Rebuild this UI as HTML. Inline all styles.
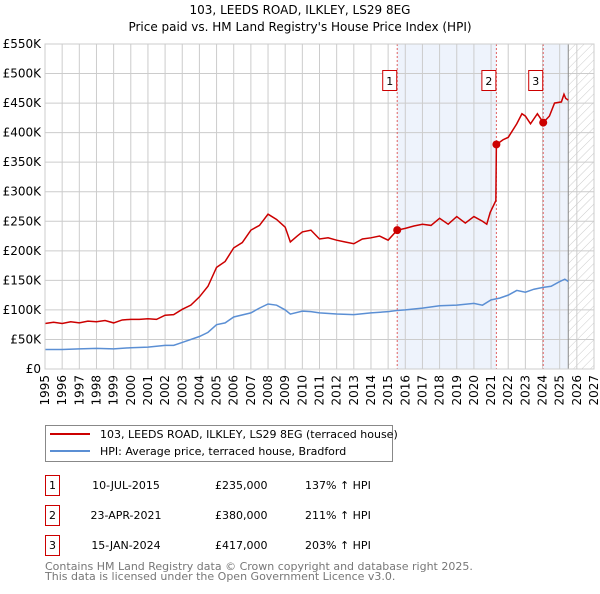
<!DOCTYPE html>
<html><head><meta charset="utf-8"><style>
body{margin:0;background:#fff;font-family:"DejaVu Sans","Liberation Sans",sans-serif;}
svg text{font-family:"DejaVu Sans","Liberation Sans",sans-serif;}
</style></head><body>
<svg id="c" width="600" height="590" xmlns="http://www.w3.org/2000/svg">
<defs><pattern id="hatch" width="6" height="6" patternUnits="userSpaceOnUse" patternTransform="rotate(45)"><line x1="0" y1="0" x2="0" y2="6" stroke="#ccc" stroke-width="1"/></pattern></defs>
<text x="300" y="14" text-anchor="middle" font-size="12">103, LEEDS ROAD, ILKLEY, LS29 8EG</text>
<text x="300" y="31" text-anchor="middle" font-size="12">Price paid vs. HM Land Registry's House Price Index (HPI)</text>
<g id="plot"></g>
<g>
<rect x="45.5" y="425.5" width="347" height="36" fill="#fff" stroke="#888"/>
<line x1="50" y1="434" x2="90" y2="434" stroke="#cc0000" stroke-width="2"/>
<text x="100" y="438" font-size="11">103, LEEDS ROAD, ILKLEY, LS29 8EG (terraced house)</text>
<line x1="50" y1="451" x2="90" y2="451" stroke="#5b8fd4" stroke-width="2"/>
<text x="100" y="455" font-size="11">HPI: Average price, terraced house, Bradford</text>
</g>
<g id="table" font-size="11"></g>
<text x="45" y="570" font-size="11" fill="#777">Contains HM Land Registry data © Crown copyright and database right 2025.</text>
<text x="45" y="580" font-size="11" fill="#777">This data is licensed under the Open Government Licence v3.0.</text>
</svg>
<script>
const yTicks=[0,50,100,150,200,250,300,350,400,450,500,550];
const yLabels=["£0","£50K","£100K","£150K","£200K","£250K","£300K","£350K","£400K","£450K","£500K","£550K"];
const xYears=[1995,1996,1997,1998,1999,2000,2001,2002,2003,2004,2005,2006,2007,2008,2009,2010,2011,2012,2013,2014,2015,2016,2017,2018,2019,2020,2021,2022,2023,2024,2025,2026,2027];
const redT=[1995,1995.5,1996,1996.5,1997,1997.5,1998,1998.5,1999,1999.5,2000,2000.5,2001,2001.5,2002,2002.5,2003,2003.5,2004,2004.5,2005,2005.5,2006,2006.5,2007,2007.5,2008,2008.5,2009,2009.3,2009.7,2010,2010.5,2011,2011.5,2012,2012.5,2013,2013.5,2014,2014.5,2015,2015.53,2016,2016.5,2017,2017.5,2018,2018.5,2019,2019.5,2020,2020.5,2020.75,2020.95,2021.28,2021.31,2021.7,2022,2022.5,2022.8,2023,2023.3,2023.7,2024.04,2024.4,2024.7,2025.1,2025.25,2025.35,2025.5];
const redV=[77,79,77,80,78,81,80,82,78,83,84,84,85,84,91,92,101,108,122,140,172,182,205,214,235,243,262,253,240,215,225,232,235,220,222,218,215,212,220,222,225,218,235,238,242,245,243,255,245,258,247,258,250,245,265,285,380,388,392,415,432,428,415,432,417,428,450,452,465,458,455];
const blueT=[1995,1996,1997,1998,1999,2000,2001,2002,2002.5,2003,2004,2004.5,2005,2005.5,2006,2007,2007.5,2008,2008.5,2009,2009.3,2010,2010.5,2011,2012,2013,2014,2015,2015.5,2016,2017,2018,2019,2020,2020.5,2021,2021.5,2022,2022.5,2023,2023.5,2024,2024.5,2025,2025.3,2025.5];
const blueV=[33,33,34,35,34,36,37,40,40,45,55,62,75,78,88,95,103,110,108,100,93,98,97,95,93,92,95,97,99,100,103,107,108,111,108,117,120,125,133,130,135,138,140,148,152,148];
const saleT=[2015.53,2021.31,2024.04];
const saleV=[235,380,417];
const saleLabels=["1","2","3"];
const saleDates=["10-JUL-2015","23-APR-2021","15-JAN-2024"];
const salePrices=["£235,000","£380,000","£417,000"];
const saleHpi=["137% ↑ HPI","211% ↑ HPI","203% ↑ HPI"];
const X0=45,X1=594,Y0=369,Y1=44;
const x=t=>X0+(t-1995)*(X1-X0)/32;
const y=v=>Y0-v*(Y0-Y1)/550;
const NS="http://www.w3.org/2000/svg";
const plot=document.getElementById('plot');
function mk(tag,attrs,parent){const e=document.createElementNS(NS,tag);for(const k in attrs)e.setAttribute(k,attrs[k]);(parent||plot).appendChild(e);return e;}
let e;
e=mk('rect',{x:x(saleT[0]),y:Y1,width:x(saleT[1])-x(saleT[0]),height:Y0-Y1,fill:'#eef3fc'});


e=mk('rect',{x:x(saleT[2]),y:Y1,width:x(2025.5)-x(saleT[2]),height:Y0-Y1,fill:'#eef3fc'});


e=mk('rect',{x:x(2025.5),y:Y1,width:X1-x(2025.5),height:Y0-Y1,fill:'url(#hatch)'});


yTicks.forEach((v,i)=>{
 e=mk('line',{x1:X0,x2:X1,y1:y(v),y2:y(v),stroke:'#ccc'});
 
 
 e=mk('text',{x:X0-4,y:y(v)+4,'text-anchor':'end','font-size':12});
 e.textContent=yLabels[i];
 
 
});
xYears.forEach(t=>{
 e=mk('line',{x1:x(t),x2:x(t),y1:Y1,y2:Y0,stroke:'#ccc'});
 
 
 e=mk('text',{x:0,y:0,'font-size':12,'text-anchor':'end',transform:`translate(${x(t)+4},${Y0+6}) rotate(-90)`});
 e.textContent=t;
 
 
});
e=mk('line',{x1:x(2025.5),x2:x(2025.5),y1:Y1,y2:Y0,stroke:'#888'});


saleT.forEach((t,i)=>{
 e=mk('line',{x1:x(t),x2:x(t),y1:Y1,y2:Y0,stroke:'#e06060','stroke-dasharray':'2,2'});
 
 
});
e=mk('polyline',{points:blueT.map((t,i)=>x(t)+','+y(blueV[i])).join(' '),fill:'none',stroke:'#5b8fd4','stroke-width':1.5});


e=mk('polyline',{points:redT.map((t,i)=>x(t)+','+y(redV[i])).join(' '),fill:'none',stroke:'#cc0000','stroke-width':1.5});


saleT.forEach((t,i)=>{
 e=mk('circle',{cx:x(t),cy:y(saleV[i]),r:4,fill:'#cc0000'});
 
 
 e=mk('rect',{x:x(t)-14.5,y:70.5,width:14,height:20,fill:'#fff',stroke:'#cc0000'});
 
 
 e=mk('text',{x:x(t)-7.5,y:85,'text-anchor':'middle','font-size':11});
 e.textContent=saleLabels[i];
 
 
});
e=mk('rect',{x:X0,y:Y1,width:X1-X0,height:Y0-Y1,fill:'none',stroke:'#ccc'});
const tbl=document.getElementById('table');
saleLabels.forEach((l,i)=>{
 const yy=475+i*30;
 e=mk('rect',{x:45.5,y:yy+0.5,width:14,height:20,fill:'#fff',stroke:'#cc0000'},tbl);
 
 
 e=mk('text',{x:52.5,y:yy+14,'text-anchor':'middle'},tbl);e.textContent=l;
 
 
 e=mk('text',{x:126,y:yy+14,'text-anchor':'middle'},tbl);e.textContent=saleDates[i];
 
 
 e=mk('text',{x:215,y:yy+14},tbl);e.textContent=salePrices[i];
 
 
 e=mk('text',{x:305,y:yy+14},tbl);e.textContent=saleHpi[i];
 
 
});
</script>
</body></html>
